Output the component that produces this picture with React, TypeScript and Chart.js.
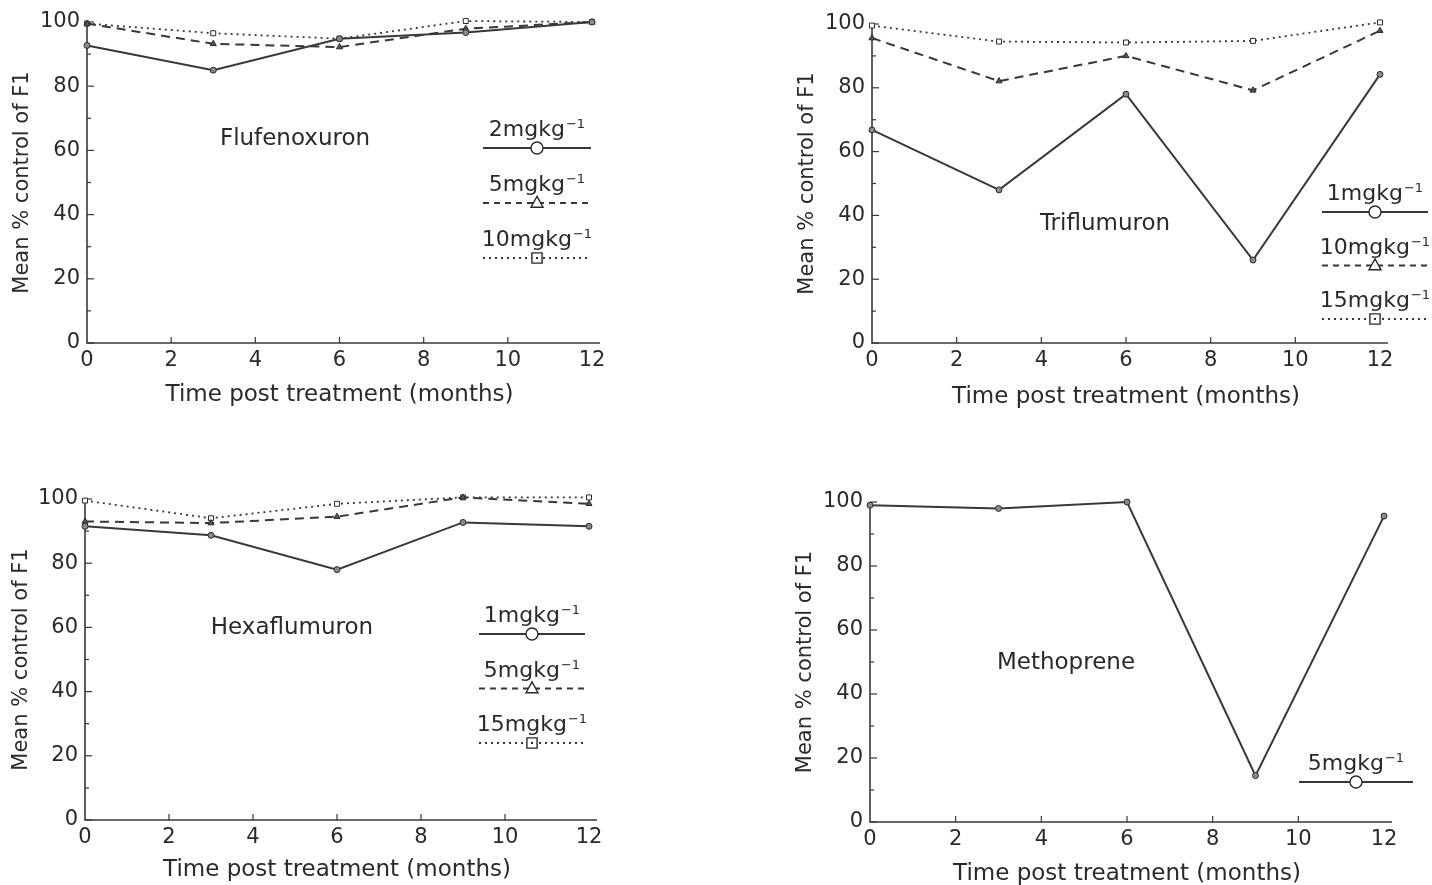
import React, { useEffect, useRef } from 'react';
import { Chart, registerables } from 'chart.js';

Chart.register(...registerables);

// ---------------- data ----------------
const months = [0, 3, 6, 9, 12];

const flufenoxuron2 = [92.7, 85, 94.8, 96.7, 100];
const flufenoxuron5 = [99.5, 93.2, 92.2, 97.9, 100];
const flufenoxuron10 = [99.5, 96.5, 94.8, 100.3, 100];

const triflumuron1 = [66.8, 48, 78, 26, 84.2];
const triflumuron10 = [95.6, 82.1, 90, 79.2, 97.9];
const triflumuron15 = [99.5, 94.5, 94.2, 94.7, 100.5];

const hexaflumuron1 = [91.5, 88.7, 78, 92.7, 91.5];
const hexaflumuron5 = [93, 92.5, 94.5, 100.5, 98.5];
const hexaflumuron15 = [99.5, 94, 98.5, 100.5, 100.5];

const methoprene5 = [99, 98, 100, 14.5, 95.6];

const xTitle = 'Time post treatment (months)';
const yTitle = 'Mean % control of F1';
const unitSup = '\u22121';

// ---------------- styles ----------------
const INK = '#2a2a2a';
const LINE = '#383838';
const FONT = '"DejaVu Sans", "Liberation Sans", sans-serif';

type StyleKey = 'solid' | 'dashed' | 'dotted';
const STYLES: Record<StyleKey, { dash: number[]; width: number; marker: string; radius: number; fill: string }> = {
  solid: { dash: [], width: 2, marker: 'circle', radius: 3, fill: '#8a8a8a' },
  dashed: { dash: [9, 6], width: 2, marker: 'triangle', radius: 3.5, fill: '#555555' },
  dotted: { dash: [2, 4], width: 1.8, marker: 'rect', radius: 3.5, fill: '#ffffff' },
};

type Series = { label: string; values: number[]; style: StyleKey };

type Panel = {
  name: string;
  series: Series[];
  box: { left: number; top: number; w: number; h: number };
  pad: { left: number; right: number; top: number; bottom: number };
  yW: number;
  xH: number;
  yTitlePad: number;
  nameAt: { dx: number; dy: number };
  legend: { dx: number; dy: number; gap: number; half: number };
};

const panels: Panel[] = [
  {
    name: 'Flufenoxuron',
    series: [
      { label: '2mgkg', values: flufenoxuron2, style: 'solid' },
      { label: '5mgkg', values: flufenoxuron5, style: 'dashed' },
      { label: '10mgkg', values: flufenoxuron10, style: 'dotted' },
    ],
    box: { left: 0, top: 0, w: 716, h: 442 },
    pad: { left: 0, right: 124, top: 22, bottom: 33 },
    yW: 87,
    xH: 66,
    yTitlePad: 10,
    nameAt: { dx: 208, dy: 123 },
    legend: { dx: 450, dy: 114, gap: 55, half: 54 },
  },
  {
    name: 'Triflumuron',
    series: [
      { label: '1mgkg', values: triflumuron1, style: 'solid' },
      { label: '10mgkg', values: triflumuron10, style: 'dashed' },
      { label: '15mgkg', values: triflumuron15, style: 'dotted' },
    ],
    box: { left: 716, top: 0, w: 716, h: 442 },
    pad: { left: 69, right: 52, top: 24, bottom: 31 },
    yW: 87,
    xH: 68,
    yTitlePad: 10,
    nameAt: { dx: 233, dy: 206 },
    legend: { dx: 503, dy: 176, gap: 53.5, half: 53 },
  },
  {
    name: 'Hexaflumuron',
    series: [
      { label: '1mgkg', values: hexaflumuron1, style: 'solid' },
      { label: '5mgkg', values: hexaflumuron5, style: 'dashed' },
      { label: '15mgkg', values: hexaflumuron15, style: 'dotted' },
    ],
    box: { left: 0, top: 442, w: 716, h: 450 },
    pad: { left: 0, right: 127, top: 57, bottom: 8 },
    yW: 85,
    xH: 64,
    yTitlePad: 9,
    nameAt: { dx: 207, dy: 135 },
    legend: { dx: 447, dy: 123, gap: 54.5, half: 53 },
  },
  {
    name: 'Methoprene',
    series: [{ label: '5mgkg', values: methoprene5, style: 'solid' }],
    box: { left: 716, top: 442, w: 716, h: 450 },
    pad: { left: 67, right: 48, top: 60, bottom: 4 },
    yW: 87,
    xH: 66,
    yTitlePad: 10,
    nameAt: { dx: 196, dy: 167 },
    legend: { dx: 486, dy: 268, gap: 54, half: 57 },
  },
];

function drawMarker(ctx: CanvasRenderingContext2D, kind: string, x: number, y: number, r: number) {
  ctx.save();
  ctx.setLineDash([]);
  ctx.lineWidth = 1.4;
  ctx.strokeStyle = INK;
  ctx.fillStyle = '#ffffff';
  ctx.beginPath();
  if (kind === 'circle') {
    ctx.arc(x, y, r, 0, Math.PI * 2);
  } else if (kind === 'triangle') {
    ctx.moveTo(x, y - r * 1.1);
    ctx.lineTo(x + r, y + r * 0.7);
    ctx.lineTo(x - r, y + r * 0.7);
    ctx.closePath();
  } else {
    ctx.rect(x - r * 0.85, y - r * 0.85, r * 1.7, r * 1.7);
  }
  ctx.fill();
  ctx.stroke();
  if (kind === 'rect') {
    ctx.fillStyle = INK;
    ctx.fillRect(x - 1, y - 1, 2, 2);
  }
  ctx.restore();
}

function makePlugin(panel: Panel) {
  return {
    id: 'paperAxes',
    beforeDatasetsDraw(chart: any) {
      const ctx: CanvasRenderingContext2D = chart.ctx;
      const xs = chart.scales.x;
      const ys = chart.scales.y;
      const x0 = xs.getPixelForValue(xs.min);
      const y0 = ys.getPixelForValue(ys.min);
      const yTop = ys.getPixelForValue(ys.max);
      const xEnd = xs.getPixelForValue(xs.max) + 8;
      const seg = (a: number, b: number, c: number, d: number) => {
        ctx.beginPath();
        ctx.moveTo(a, b);
        ctx.lineTo(c, d);
        ctx.stroke();
      };
      ctx.save();
      ctx.setLineDash([]);
      ctx.strokeStyle = LINE;
      ctx.lineWidth = 1.6;
      ctx.beginPath();
      ctx.moveTo(x0, yTop);
      ctx.lineTo(x0, y0);
      ctx.lineTo(xEnd, y0);
      ctx.stroke();
      ctx.lineWidth = 1.2;
      const yv = ys.ticks.map((t: any) => t.value);
      yv.forEach((v: number, i: number) => {
        const p = ys.getPixelForValue(v);
        seg(x0, p, x0 + 7, p);
        if (i < yv.length - 1) {
          const pm = ys.getPixelForValue((v + yv[i + 1]) / 2);
          seg(x0, pm, x0 + 4, pm);
        }
      });
      xs.ticks.forEach((t: any) => {
        if (t.value > xs.min && t.value < xs.max) {
          const p = xs.getPixelForValue(t.value);
          seg(p, y0, p, y0 - 6);
        }
      });
      ctx.restore();
    },
    afterDraw(chart: any) {
      const ctx: CanvasRenderingContext2D = chart.ctx;
      const { left, top } = chart.chartArea;
      ctx.save();
      ctx.fillStyle = INK;
      ctx.textAlign = 'center';
      ctx.textBaseline = 'alphabetic';
      ctx.font = `23px ${FONT}`;
      ctx.fillText(panel.name, left + panel.nameAt.dx, top + panel.nameAt.dy);

      const lg = panel.legend;
      const cx = left + lg.dx;
      panel.series.forEach((s, i) => {
        const st = STYLES[s.style];
        const base = top + lg.dy + i * lg.gap;
        ctx.textAlign = 'left';
        ctx.font = `22px ${FONT}`;
        const mw = ctx.measureText(s.label).width;
        ctx.font = `13px ${FONT}`;
        const sw = ctx.measureText(unitSup).width;
        const sx = cx - (mw + 1 + sw) / 2;
        ctx.fillStyle = INK;
        ctx.font = `22px ${FONT}`;
        ctx.fillText(s.label, sx, base);
        ctx.font = `13px ${FONT}`;
        ctx.fillText(unitSup, sx + mw + 1, base - 8);

        const ly = base + 12;
        ctx.strokeStyle = LINE;
        ctx.lineWidth = st.width;
        ctx.setLineDash(s.style === 'dashed' ? [6, 5] : st.dash);
        ctx.beginPath();
        ctx.moveTo(cx - lg.half, ly);
        ctx.lineTo(cx + lg.half, ly);
        ctx.stroke();
        drawMarker(ctx, st.marker, cx, ly, 6);
      });
      ctx.restore();
    },
  };
}

function PanelChart({ panel }: { panel: Panel }) {
  const ref = useRef<HTMLCanvasElement | null>(null);

  useEffect(() => {
    if (!ref.current) return;
    const datasets = panel.series.map((s) => {
      const st = STYLES[s.style];
      return {
        label: s.label,
        data: months.map((m, i) => ({ x: m, y: s.values[i] })),
        borderColor: LINE,
        borderWidth: st.width,
        borderDash: st.dash,
        pointStyle: st.marker,
        pointRadius: st.radius,
        pointBorderColor: INK,
        pointBorderWidth: 1,
        pointBackgroundColor: st.fill,
        fill: false,
        tension: 0,
        clip: false,
      };
    });
    const chart = new Chart(ref.current, {
      type: 'line',
      data: { datasets: datasets as any },
      options: {
        animation: false,
        responsive: false,
        events: [],
        layout: { padding: panel.pad },
        plugins: {
          legend: { display: false },
          tooltip: { enabled: false },
          title: { display: false },
        },
        scales: {
          x: {
            type: 'linear',
            min: 0,
            max: 12,
            grid: { display: false, drawTicks: false },
            border: { display: false },
            ticks: {
              stepSize: 2,
              padding: 5,
              color: INK,
              maxRotation: 0,
              autoSkip: false,
              font: { family: FONT, size: 21 },
            },
            title: {
              display: true,
              text: xTitle,
              color: INK,
              font: { family: FONT, size: 23 },
              padding: { top: 0, bottom: 0 },
            },
            afterFit: (s: any) => {
              s.height = panel.xH;
            },
          },
          y: {
            type: 'linear',
            min: 0,
            max: 100,
            grid: { display: false, drawTicks: false },
            border: { display: false },
            ticks: {
              stepSize: 20,
              padding: 7,
              color: INK,
              font: { family: FONT, size: 21 },
            },
            title: {
              display: true,
              text: yTitle,
              color: INK,
              font: { family: FONT, size: 21 },
              padding: { top: panel.yTitlePad, bottom: 0 },
            },
            afterFit: (s: any) => {
              s.width = panel.yW;
            },
          },
        },
      } as any,
      plugins: [makePlugin(panel) as any],
    });
    return () => chart.destroy();
  }, [panel]);

  return (
    <div
      style={{
        position: 'absolute',
        left: panel.box.left,
        top: panel.box.top,
        width: panel.box.w,
        height: panel.box.h,
      }}
    >
      <canvas ref={ref} width={panel.box.w} height={panel.box.h} style={{ display: 'block' }} />
    </div>
  );
}

export default function App() {
  return (
    <div
      style={{
        position: 'fixed',
        left: 0,
        top: 0,
        width: 1432,
        height: 885,
        background: '#ffffff',
        overflow: 'hidden',
      }}
    >
      {panels.map((p) => (
        <PanelChart key={p.name} panel={p} />
      ))}
    </div>
  );
}
